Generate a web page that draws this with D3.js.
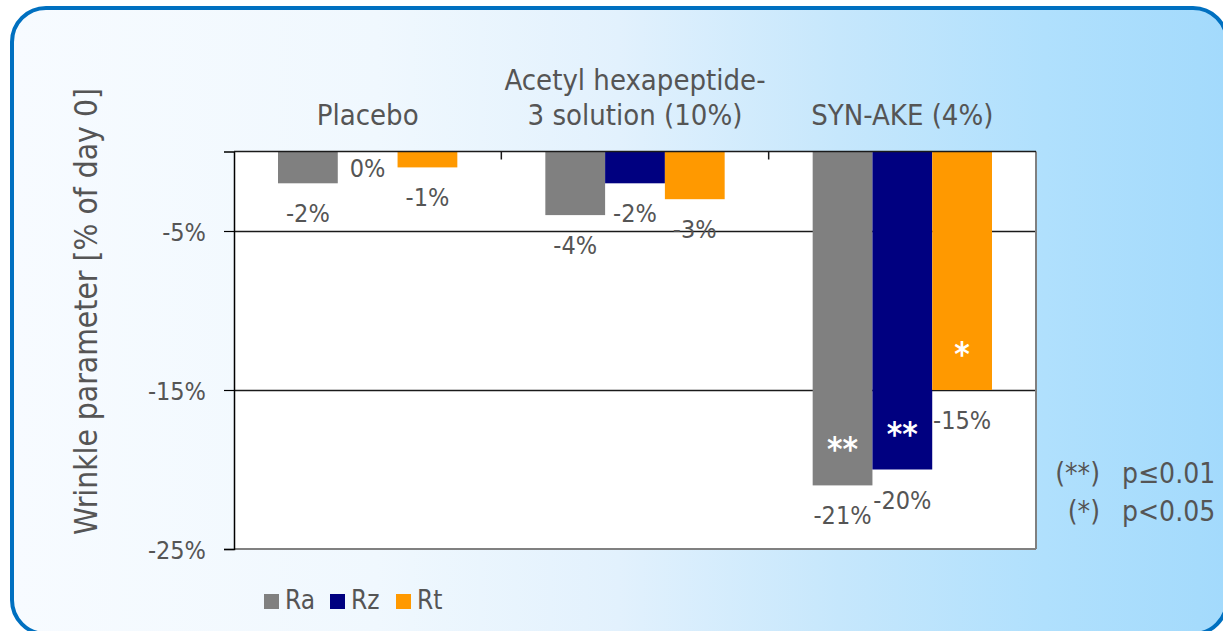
<!DOCTYPE html>
<html lang="en">
<head>
<meta charset="utf-8">
<title>Wrinkle parameter</title>
<script src="https://d3js.org/d3.v7.min.js"></script>
<style>
  body { margin: 0; background: #ffffff; }
  svg text { font-family: "DejaVu Sans Condensed", "DejaVu Sans", sans-serif; fill: #555555; }
</style>
</head>
<body>
<div id="chart"></div>
<script>
// data
var categories = ["Placebo", "Acetyl hexapeptide-3 solution (10%)", "SYN-AKE (4%)"];
var categoryLines = [["Placebo"], ["Acetyl hexapeptide-", "3 solution (10%)"], ["SYN-AKE (4%)"]];
var seriesNames = ["Ra", "Rz", "Rt"];
var raValues = [-2, -4, -21];
var rzValues = [0, -2, -20];
var rtValues = [-1, -3, -15];
var raStars = ["", "", "**"];
var rzStars = ["", "", "**"];
var rtStars = ["", "", "*"];
var yTicks = [-25, -15, -5];
var yTitle = "Wrinkle parameter [% of day 0]";
var pNotes = [["(**)", "p\u22640.01"], ["(*)", "p<0.05"]];

var seriesColors = ["#808080", "#000080", "#FF9900"];

var width = 1223, height = 631;
var plot = { left: 234, right: 1036, top: 151.5, bottom: 549 };

var svg = d3.select("#chart").append("svg")
    .attr("width", width)
    .attr("height", height);

// background panel with gradient
var defs = svg.append("defs");
var grad = defs.append("linearGradient").attr("id", "bg").attr("x1", "0").attr("x2", "1").attr("y1", "0").attr("y2", "0");
[[0, "#f7fbff"], [0.3, "#f0f8fe"], [0.5, "#e2f1fd"], [0.68, "#c6e7fc"], [0.85, "#b0e0fd"], [1, "#a3dafc"]]
    .forEach(function(s) { grad.append("stop").attr("offset", s[0]).attr("stop-color", s[1]); });

svg.append("rect")
    .attr("x", 12).attr("y", 8)
    .attr("width", 1215).attr("height", 626)
    .attr("rx", 34).attr("ry", 34)
    .attr("fill", "url(#bg)")
    .attr("stroke", "#0070C0")
    .attr("stroke-width", 4);

var x = d3.scaleBand().domain(categories).range([plot.left, plot.right]).padding(0);
var inner = d3.scaleBand().domain(seriesNames)
    .range([44, x.bandwidth() - 44]).padding(0);
var y = d3.scaleLinear().domain([-25, 0]).range([plot.bottom, plot.top]);

// plot area
svg.append("rect")
    .attr("x", plot.left).attr("y", plot.top)
    .attr("width", plot.right - plot.left).attr("height", plot.bottom - plot.top)
    .attr("fill", "#ffffff");

// gridlines
svg.append("g").selectAll("line")
    .data(yTicks.filter(function(t) { return t !== -25; }))
    .enter().append("line")
    .attr("x1", plot.left).attr("x2", plot.right)
    .attr("y1", function(d) { return Math.round(y(d)) + 0.5; })
    .attr("y2", function(d) { return Math.round(y(d)) + 0.5; })
    .attr("stroke", "#1a1a1a")
    .attr("stroke-width", 1.3);

// bars
var table = categories.map(function(c, i) {
    return {
        cat: c,
        values: [
            { name: "Ra", v: raValues[i], star: raStars[i] },
            { name: "Rz", v: rzValues[i], star: rzStars[i] },
            { name: "Rt", v: rtValues[i], star: rtStars[i] }
        ]
    };
});

var groups = svg.append("g").selectAll("g")
    .data(table)
    .enter().append("g")
    .attr("transform", function(d) { return "translate(" + x(d.cat) + ",0)"; });

groups.selectAll("rect")
    .data(function(d) { return d.values; })
    .enter().append("rect")
    .attr("x", function(d) { return inner(d.name); })
    .attr("y", y(0))
    .attr("width", inner.bandwidth())
    .attr("height", function(d) { return y(d.v) - y(0); })
    .attr("fill", function(d, i) { return seriesColors[i]; });

// value labels under bar ends
groups.selectAll("text.val")
    .data(function(d) { return d.values; })
    .enter().append("text")
    .attr("class", "val")
    .attr("x", function(d) { return inner(d.name) + inner.bandwidth() / 2; })
    .attr("y", function(d) { return y(d.v) + (d.v === 0 ? 25.5 : 39); })
    .attr("text-anchor", "middle")
    .style("font-size", "25px")
    .text(function(d) { return d.v + "%"; });

// significance stars inside bars
groups.selectAll("text.star")
    .data(function(d) { return d.values.filter(function(v) { return v.star; }); })
    .enter().append("text")
    .attr("class", "star")
    .attr("x", function(d) { return inner(d.name) + inner.bandwidth() / 2; })
    .attr("y", function(d) { return y(d.v) - 24; })
    .attr("text-anchor", "middle")
    .style("font-size", "33px")
    .style("font-weight", "bold")
    .style("fill", "#ffffff")
    .text(function(d) { return d.star; });

// plot frame: right and bottom grey, left and top dark
svg.append("line").attr("x1", plot.right).attr("x2", plot.right)
    .attr("y1", plot.top).attr("y2", plot.bottom)
    .attr("stroke", "#808080").attr("stroke-width", 2);
svg.append("line").attr("x1", plot.left).attr("x2", plot.right)
    .attr("y1", plot.bottom).attr("y2", plot.bottom)
    .attr("stroke", "#808080").attr("stroke-width", 2);

// y axis
var yAxis = svg.append("g")
    .attr("transform", "translate(" + plot.left + ",0)")
    .call(d3.axisLeft(y).tickValues(yTicks).tickSize(10).tickPadding(18)
        .tickFormat(function(d) { return d + "%"; }));
yAxis.select(".domain").attr("stroke", "#000").attr("stroke-width", 1.5);
yAxis.selectAll(".tick line").attr("stroke", "#000").attr("stroke-width", 1.2);
yAxis.selectAll(".tick text")
    .attr("dy", "0.38em")
    .style("font-size", "25px")
    .style("font-family", "\"DejaVu Sans Condensed\", \"DejaVu Sans\", sans-serif")
    .style("fill", "#555555");

// category axis along the zero line, ticks point down
var xAxis = svg.append("g")
    .attr("transform", "translate(0," + plot.top + ")");
xAxis.append("line")
    .attr("x1", plot.left).attr("x2", plot.right)
    .attr("stroke", "#1a1a1a").attr("stroke-width", 1.5);
xAxis.selectAll("line.tick")
    .data(categories.slice(1))
    .enter().append("line")
    .attr("class", "tick")
    .attr("x1", function(d) { return x(d); })
    .attr("x2", function(d) { return x(d); })
    .attr("y1", 0).attr("y2", 8)
    .attr("stroke", "#1a1a1a").attr("stroke-width", 1.5);

// category labels above the plot
svg.append("g").selectAll("text")
    .data(categories)
    .enter().append("text")
    .attr("x", function(d) { return x(d) + x.bandwidth() / 2; })
    .attr("y", function(d, i) { return 125 - (categoryLines[i].length - 1) * 35; })
    .attr("text-anchor", "middle")
    .style("font-size", "29px")
    .each(function(d, i) {
        var t = d3.select(this);
        categoryLines[i].forEach(function(line, j) {
            t.append("tspan")
                .attr("x", x(d) + x.bandwidth() / 2)
                .attr("dy", j === 0 ? 0 : 35)
                .text(line);
        });
    });

// y axis title
svg.append("text")
    .attr("transform", "translate(97," + 311.5 + ") rotate(-90)")
    .attr("text-anchor", "middle")
    .style("font-size", "31.5px")
    .text(yTitle);

// legend
var legend = svg.append("g").selectAll("g")
    .data(seriesNames)
    .enter().append("g")
    .attr("transform", function(d, i) { return "translate(" + (264 + i * 66) + ",594)"; });
legend.append("rect")
    .attr("width", 15).attr("height", 15)
    .attr("fill", function(d, i) { return seriesColors[i]; });
legend.append("text")
    .attr("x", 21).attr("y", 15)
    .style("font-size", "26px")
    .text(function(d) { return d; });

// significance notes
var notes = svg.append("g").selectAll("g")
    .data(pNotes)
    .enter().append("g")
    .attr("transform", function(d, i) { return "translate(0," + (483 + i * 38) + ")"; });
notes.append("text")
    .attr("x", 1100)
    .attr("text-anchor", "end")
    .style("font-size", "28px")
    .text(function(d) { return d[0]; });
notes.append("text")
    .attr("x", 1122)
    .style("font-size", "28px")
    .text(function(d) { return d[1]; });
</script>
</body>
</html>
